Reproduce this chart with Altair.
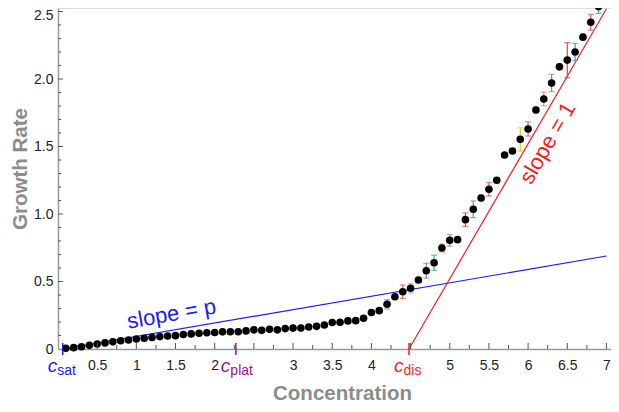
import altair as alt
import pandas as pd

# ---------------- data ----------------
conc = [0.1, 0.2, 0.3, 0.4, 0.5, 0.6, 0.7, 0.8, 0.9, 1.0,
        1.1, 1.2, 1.3, 1.4, 1.5, 1.6, 1.7, 1.8, 1.9, 2.0,
        2.1, 2.2, 2.3, 2.4, 2.5, 2.6, 2.7, 2.8, 2.9, 3.0,
        3.1, 3.2, 3.3, 3.4, 3.5, 3.6, 3.7, 3.8, 3.9, 4.0,
        4.1, 4.2, 4.3, 4.4, 4.5, 4.6, 4.7, 4.8, 4.9, 5.0,
        5.1, 5.2, 5.3, 5.4, 5.5, 5.6, 5.7, 5.8, 5.9, 6.0,
        6.1, 6.2, 6.3, 6.4, 6.5, 6.6, 6.7, 6.8, 6.9, 7.0]
rate = [0.005, 0.010, 0.017, 0.027, 0.037, 0.045, 0.053, 0.061, 0.067, 0.074,
        0.080, 0.086, 0.092, 0.096, 0.099, 0.107, 0.112, 0.117, 0.120, 0.122,
        0.127, 0.128, 0.128, 0.134, 0.142, 0.138, 0.146, 0.142, 0.151, 0.155,
        0.156, 0.163, 0.168, 0.178, 0.196, 0.198, 0.208, 0.210, 0.228, 0.270,
        0.284, 0.331, 0.387, 0.424, 0.450, 0.511, 0.580, 0.639, 0.748, 0.805,
        0.810, 0.958, 1.035, 1.119, 1.183, 1.250, 1.437, 1.467, 1.553, 1.630,
        1.770, 1.852, 1.970, 2.090, 2.140, 2.200, 2.310, 2.420, 2.536, 2.650]
err = [0.004, 0.004, 0.004, 0.005, 0.005, 0.005, 0.005, 0.006, 0.006, 0.006,
       0.006, 0.006, 0.007, 0.007, 0.007, 0.007, 0.007, 0.008, 0.008, 0.008,
       0.008, 0.008, 0.008, 0.009, 0.009, 0.009, 0.009, 0.009, 0.010, 0.010,
       0.010, 0.010, 0.010, 0.012, 0.012, 0.012, 0.016, 0.012, 0.014, 0.012,
       0.014, 0.035, 0.020, 0.050, 0.035, 0.020, 0.055, 0.056, 0.030, 0.043,
       0.010, 0.050, 0.062, 0.020, 0.050, 0.020, 0.012, 0.016, 0.086, 0.053,
       0.020, 0.050, 0.064, 0.020, 0.130, 0.064, 0.020, 0.058, 0.050, 0.070]
bar_color = ["#e8413c", "#4a90d9", "#e8902a", "#a870c8", "#35b07a", "#f5c400", "#c9608e", "#2fb7b7", "#a7c520", "#ef6b4f",
             "#88a9e0", "#e8902a", "#a870c8", "#35b07a", "#f5c400", "#c9608e", "#2fb7b7", "#a7c520", "#ef6b4f", "#4a90d9",
             "#e8902a", "#a870c8", "#35b07a", "#f5c400", "#c9608e", "#2fb7b7", "#a7c520", "#ef6b4f", "#4a90d9", "#e8902a",
             "#a870c8", "#35b07a", "#f5c400", "#c9608e", "#2fb7b7", "#a7c520", "#8a6fd0", "#ef6b4f", "#4a90d9", "#e8902a",
             "#35b07a", "#a870c8", "#a7c520", "#ef5a3a", "#88a9e0", "#e8902a", "#c9608e", "#35b07a", "#e8902a", "#a870c8",
             "#2fb7b7", "#e8413c", "#4a90d9", "#e8902a", "#c9508a", "#a7c520", "#35b07a", "#6b55b5", "#f5c400", "#c9608e",
             "#2fb7b7", "#e8902a", "#a870c8", "#a870c8", "#e8413c", "#4a90d9", "#e8902a", "#c9508a", "#35b07a", "#e8902a"]

c_sat, c_plat, c_dis = 0.06, 2.27, 4.48
p_line_x = [0.06, 7.0]
p_line_y = [0.0, 0.689]
one_line_x = [4.48, 7.0]
one_line_y = [0.0, 2.52]

x_labels = [0.5, 1, 1.5, 2, 3, 3.5, 4, 5, 5.5, 6, 6.5, 7]
y_labels = [0, 0.5, 1.0, 1.5, 2.0, 2.5]
x_major = [0.5, 1.0, 1.5, 2.0, 2.5, 3.0, 3.5, 4.0, 4.5, 5.0, 5.5, 6.0, 6.5, 7.0]
x_minor = [0.25, 0.75, 1.25, 1.75, 2.25, 2.75, 3.25, 3.75, 4.25, 4.75, 5.25, 5.75, 6.25, 6.75]
y_major = [0.5, 1.0, 1.5, 2.0, 2.5]
y_minor = [0.1, 0.2, 0.3, 0.4, 0.6, 0.7, 0.8, 0.9, 1.1, 1.2, 1.3, 1.4,
           1.6, 1.7, 1.8, 1.9, 2.1, 2.2, 2.3, 2.4]

special_names = ["sat", "plat", "dis"]
special_pos = [c_sat, c_plat, c_dis]
special_color = ["#1a1aff", "#99119a", "#ff1a1a"]

# ---------------- build chart ----------------
W, H = 553, 341
FONT = "Liberation Sans"
xs = alt.Scale(domain=[0, 553 / 78.35], nice=False, zero=False)
ys = alt.Scale(domain=[0, 341 / 135.0], nice=False, zero=False)

X_AX = alt.Axis(
    values=x_labels, format="~g", ticks=False, tickSize=0, grid=False,
    domainColor="#9a9a9a", domainWidth=1.5,
    labelFont=FONT, labelFontSize=14, labelColor="#222222", labelPadding=9,
    labelFlush=False, labelOverlap=False,
    title="Concentration", titleFont=FONT, titleFontSize=20.5,
    titleFontWeight="bold", titleColor="#8c8c8c",
    titleX=284, titleY=50.5, titleBaseline="alphabetic", titleAlign="center")
Y_AX = alt.Axis(
    values=y_labels, labelExpr="datum.value == 0 ? '0' : format(datum.value, '.1f')",
    ticks=False, tickSize=0, grid=False,
    domainColor="#9a9a9a", domainWidth=1.5,
    labelFont=FONT, labelFontSize=14, labelColor="#222222", labelPadding=5,
    labelFlush=False, labelOverlap=False,
    labelOffset={"condition": {"test": "datum.value >= 2.5", "value": 4}, "value": 0},
    title="Growth Rate", titleFont=FONT, titleFontSize=20.5,
    titleFontWeight="bold", titleColor="#8c8c8c", titleAngle=270,
    titleX=-31.5, titleY=160.5, titleBaseline="alphabetic", titleAlign="center")


def X(f):
    return alt.X(f, scale=xs, axis=X_AX)


def Y(f):
    return alt.Y(f, scale=ys, axis=Y_AX)


df = pd.DataFrame({"conc": conc, "rate": rate, "err": err, "col": bar_color})
df["lo"] = df["rate"] - df["err"]
df["hi"] = df["rate"] + df["err"]

base = alt.Chart(df)
bars = base.mark_rule(strokeWidth=1.2).encode(
    x=X("conc:Q"), y=Y("lo:Q"), y2="hi:Q", color=alt.Color("col:N", scale=None))
cap_lo = base.mark_tick(orient="horizontal", size=6, thickness=1.2).encode(
    x=X("conc:Q"), y=Y("lo:Q"), color=alt.Color("col:N", scale=None))
cap_hi = base.mark_tick(orient="horizontal", size=6, thickness=1.2).encode(
    x=X("conc:Q"), y=Y("hi:Q"), color=alt.Color("col:N", scale=None))
points = base.mark_circle(size=58, color="black", opacity=1).encode(
    x=X("conc:Q"), y=Y("rate:Q"))

p_df = pd.DataFrame({"conc": p_line_x, "rate": p_line_y})
one_df = pd.DataFrame({"conc": one_line_x, "rate": one_line_y})
p_line = alt.Chart(p_df).mark_line(color="#1a1aff", strokeWidth=1.2).encode(
    x=X("conc:Q"), y=Y("rate:Q"))
one_line = alt.Chart(one_df).mark_line(color="#ff1a1a", strokeWidth=1.2).encode(
    x=X("conc:Q"), y=Y("rate:Q"))

ann_df = pd.DataFrame({"conc": [1.45, 6.25], "rate": [0.259, 1.526],
                       "t": ["slope = p", "slope = 1"],
                       "c": ["#1a1aff", "#ff1a1a"]})
ann_p = alt.Chart(ann_df.iloc[[0]]).mark_text(font=FONT, fontSize=22, angle=350,
                                             align="center", baseline="middle").encode(
    x=X("conc:Q"), y=Y("rate:Q"), text="t:N", color=alt.Color("c:N", scale=None))
ann_1 = alt.Chart(ann_df.iloc[[1]]).mark_text(font=FONT, fontSize=22, angle=300,
                                             align="center", baseline="middle").encode(
    x=X("conc:Q"), y=Y("rate:Q"), text="t:N", color=alt.Color("c:N", scale=None))

# inward ticks
xmaj = alt.Chart(pd.DataFrame({"conc": x_major})).mark_rule(color="#555555", strokeWidth=1).encode(
    x=X("conc:Q"), y=alt.value(H), y2=alt.value(H - 6))
xmin = alt.Chart(pd.DataFrame({"conc": x_minor})).mark_rule(color="#555555", strokeWidth=1).encode(
    x=X("conc:Q"), y=alt.value(H), y2=alt.value(H - 4))
ymaj = alt.Chart(pd.DataFrame({"rate": y_major})).mark_rule(color="#555555", strokeWidth=1).encode(
    y=Y("rate:Q"), x=alt.value(0), x2=alt.value(5))
ymin = alt.Chart(pd.DataFrame({"rate": y_minor})).mark_rule(color="#555555", strokeWidth=1).encode(
    y=Y("rate:Q"), x=alt.value(0), x2=alt.value(3))

sp_df = pd.DataFrame({"conc": special_pos, "sub": special_names, "col": special_color,
                      "c": ["c", "c", "c"]})
sp_ticks = alt.Chart(sp_df).mark_rule(strokeWidth=1.5).encode(
    x=X("conc:Q"), y=alt.value(H - 6), y2=alt.value(H + 6),
    color=alt.Color("col:N", scale=None))
sp_c = alt.Chart(sp_df).mark_text(font=FONT, fontSize=19, fontStyle="italic",
                                  align="right", baseline="alphabetic", dx=-5.5).encode(
    x=X("conc:Q"), y=alt.value(364), text="c:N", color=alt.Color("col:N", scale=None))
sp_sub = alt.Chart(sp_df).mark_text(font=FONT, fontSize=14,
                                    align="left", baseline="alphabetic", dx=-5.5).encode(
    x=X("conc:Q"), y=alt.value(367), text="sub:N", color=alt.Color("col:N", scale=None))

chart = alt.layer(
    p_line, one_line, bars, cap_lo, cap_hi, points,
    ann_p, ann_1, xmaj, xmin, ymaj, ymin, sp_ticks, sp_c, sp_sub
).properties(
    width=W, height=H,
    autosize=alt.AutoSizeParams(type="none"),
    padding={"left": 50, "top": 0, "right": 0, "bottom": 55}
).configure_view(stroke=None).configure(background="white")

chart.save("out.html", embed_options={"renderer": "svg", "actions": False})
